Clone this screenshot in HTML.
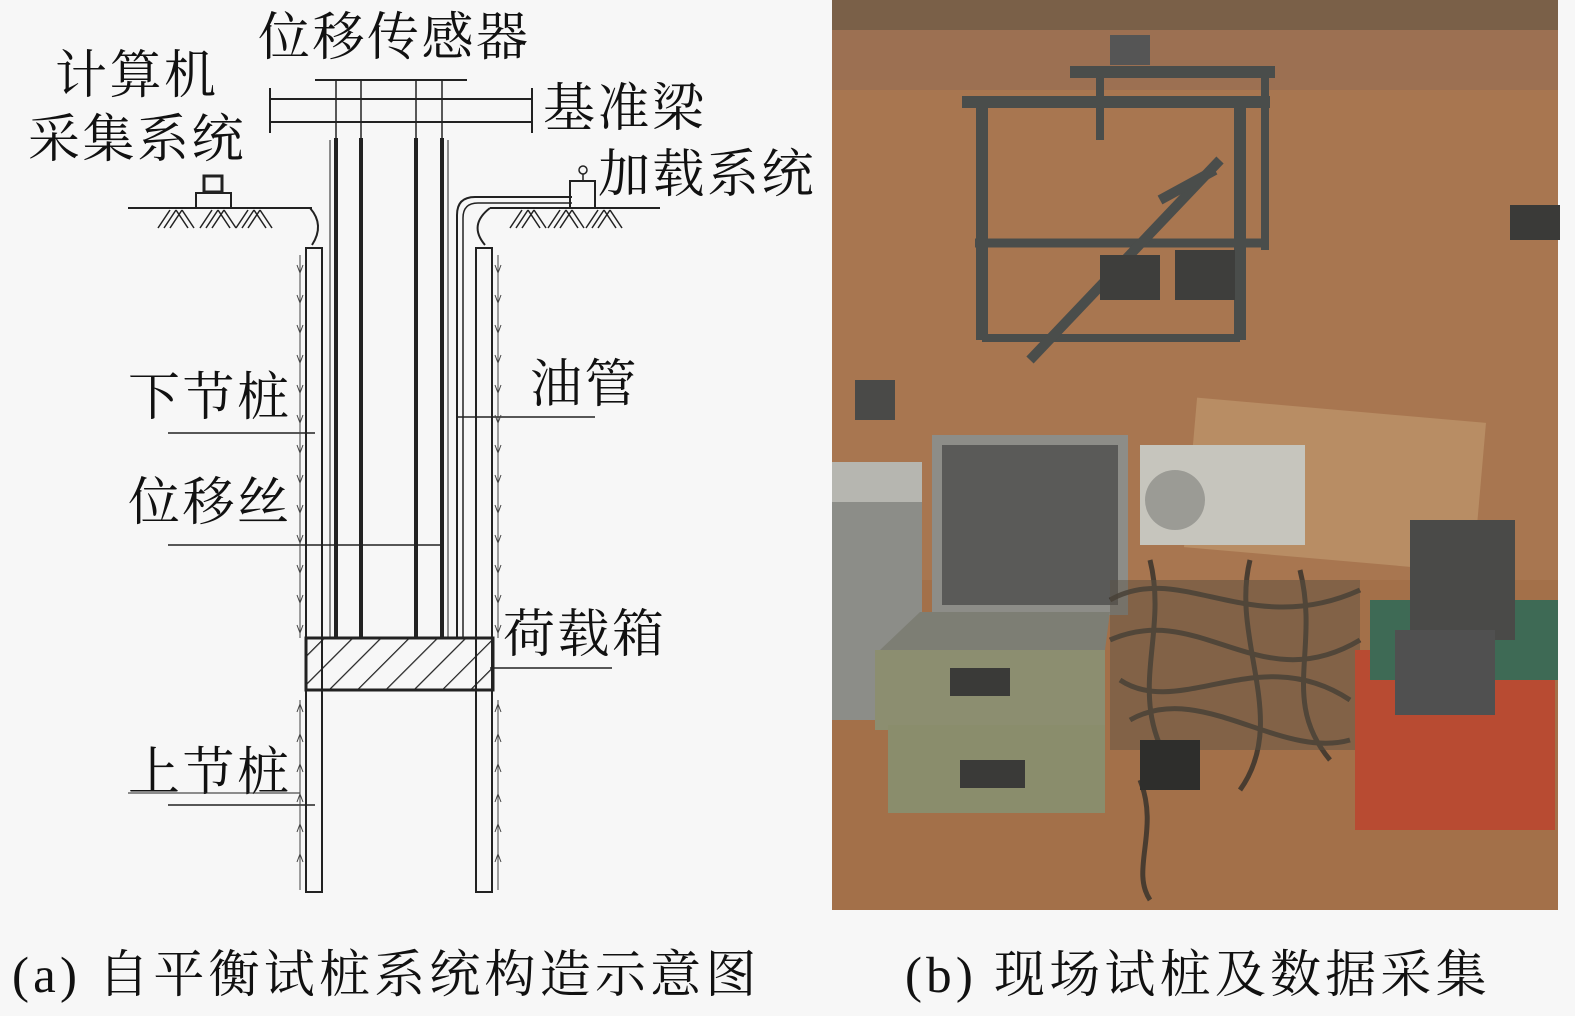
<!DOCTYPE html>
<html><head><meta charset="utf-8"><style>
html,body{margin:0;padding:0;background:#f7f7f7;}
svg{display:block}
text{font-family:"Liberation Serif","Noto Serif CJK SC","Noto Sans CJK SC",serif;fill:#111;}
</style></head><body>
<svg width="1575" height="1016" viewBox="0 0 1575 1016" xmlns="http://www.w3.org/2000/svg">
<defs>
<pattern id="hatch" width="20" height="20" patternUnits="userSpaceOnUse" patternTransform="rotate(45)">
<line x1="0" y1="0" x2="0" y2="20" stroke="#222" stroke-width="2.5"/>
</pattern>
</defs>
<rect width="1575" height="1016" fill="#f7f7f7"/>

<!-- labels -->
<g font-size="52" letter-spacing="2.5">
<text x="258" y="55">位移传感器</text>
<text x="55" y="93">计算机</text>
<text x="28" y="157">采集系统</text>
<text x="543" y="126">基准梁</text>
<text x="598" y="192">加载系统</text>
<text x="530" y="402">油管</text>
<text x="128" y="415">下节桩</text>
<text x="128" y="520">位移丝</text>
<text x="503" y="652">荷载箱</text>
<text x="128" y="790">上节桩</text>
</g>
<text x="12" y="992" font-size="51" letter-spacing="4.2">(a) 自平衡试桩系统构造示意图</text>
<text x="905" y="992" font-size="51" letter-spacing="4.2">(b) 现场试桩及数据采集</text>

<g stroke="#222" fill="none">
<line x1="315" y1="80" x2="467" y2="80" stroke-width="2"/>
<line x1="270" y1="99" x2="532" y2="99" stroke-width="2"/>
<line x1="270" y1="122" x2="532" y2="122" stroke-width="2"/>
<line x1="270" y1="88" x2="270" y2="133" stroke-width="2"/>
<line x1="532" y1="88" x2="532" y2="133" stroke-width="2"/>
<line x1="336" y1="80" x2="336" y2="140" stroke-width="1.5"/>
<line x1="361" y1="80" x2="361" y2="140" stroke-width="1.5"/>
<line x1="416" y1="80" x2="416" y2="140" stroke-width="1.5"/>
<line x1="442" y1="80" x2="442" y2="140" stroke-width="1.5"/>
<line x1="336" y1="138" x2="336" y2="638" stroke-width="4"/>
<line x1="361" y1="138" x2="361" y2="638" stroke-width="4"/>
<line x1="416" y1="138" x2="416" y2="638" stroke-width="4"/>
<line x1="442" y1="138" x2="442" y2="638" stroke-width="4"/>
<line x1="330" y1="140" x2="330" y2="638" stroke-width="1"/>
<line x1="448" y1="140" x2="448" y2="638" stroke-width="1"/>
<path d="M457,638 L457,215 Q457,197 475,197 L572,197" stroke-width="2"/>
<path d="M463,638 L463,218 Q463,203 478,203 L572,203" stroke-width="1.5"/>
<rect x="306" y="248" width="16" height="644" stroke-width="2" fill="#f7f7f7"/>
<rect x="476" y="248" width="16" height="644" stroke-width="2" fill="#f7f7f7"/>
<rect x="306" y="638" width="187" height="52" fill="url(#hatch)" stroke-width="3"/>
<line x1="128" y1="208" x2="312" y2="208" stroke-width="2"/>
<path d="M310,208 Q325,225 312,245" stroke-width="2"/>
<line x1="490" y1="208" x2="660" y2="208" stroke-width="2"/>
<path d="M490,208 Q468,225 485,245" stroke-width="2"/>
<rect x="196" y="193" width="35" height="15" stroke-width="2"/>
<rect x="204" y="176" width="18" height="16" stroke-width="3"/>
<rect x="570" y="181" width="25" height="27" stroke-width="2"/>
<circle cx="583" cy="170" r="4" stroke-width="1.5"/>
<line x1="583" y1="174" x2="583" y2="181" stroke-width="1.5"/>
<g stroke-width="1.5">
<path d="M158,228 l12,-18 M164,228 l12,-18 M170,228 l12,-18 M176,210 l12,18 M182,210 l12,18"/>
<path d="M200,228 l12,-18 M206,228 l12,-18 M212,228 l12,-18 M218,210 l12,18 M224,210 l12,18"/>
<path d="M236,228 l12,-18 M242,228 l12,-18 M248,228 l12,-18 M254,210 l12,18 M260,210 l12,18"/>
<path d="M510,228 l12,-18 M516,228 l12,-18 M522,228 l12,-18 M528,210 l12,18 M534,210 l12,18"/>
<path d="M548,228 l12,-18 M554,228 l12,-18 M560,228 l12,-18 M566,210 l12,18 M572,210 l12,18"/>
<path d="M586,228 l12,-18 M592,228 l12,-18 M598,228 l12,-18 M604,210 l12,18 M610,210 l12,18"/>
</g>
<line x1="168" y1="433" x2="315" y2="433" stroke-width="1.5"/>
<line x1="168" y1="545" x2="442" y2="545" stroke-width="1.5"/>
<line x1="458" y1="417" x2="595" y2="417" stroke-width="1.5"/>
<line x1="490" y1="668" x2="612" y2="668" stroke-width="1.5"/>
<line x1="168" y1="805" x2="315" y2="805" stroke-width="1.5"/>
<line x1="128" y1="793" x2="300" y2="793" stroke-width="1"/>
<g stroke-width="1" stroke="#444">
<line x1="300" y1="255" x2="300" y2="638"/>
<line x1="498" y1="255" x2="498" y2="638"/>
<line x1="300" y1="700" x2="300" y2="890"/>
<line x1="498" y1="700" x2="498" y2="890"/>
<path d="M297,265 l3,8 l3,-8 M297,295 l3,8 l3,-8 M297,325 l3,8 l3,-8 M297,355 l3,8 l3,-8 M297,385 l3,8 l3,-8 M297,415 l3,8 l3,-8 M297,445 l3,8 l3,-8 M297,475 l3,8 l3,-8 M297,505 l3,8 l3,-8 M297,535 l3,8 l3,-8 M297,565 l3,8 l3,-8 M297,595 l3,8 l3,-8 M297,625 l3,8 l3,-8"/>
<path d="M495,265 l3,8 l3,-8 M495,295 l3,8 l3,-8 M495,325 l3,8 l3,-8 M495,355 l3,8 l3,-8 M495,385 l3,8 l3,-8 M495,415 l3,8 l3,-8 M495,445 l3,8 l3,-8 M495,475 l3,8 l3,-8 M495,505 l3,8 l3,-8 M495,535 l3,8 l3,-8 M495,565 l3,8 l3,-8 M495,595 l3,8 l3,-8 M495,625 l3,8 l3,-8"/>
<path d="M297,712 l3,-8 l3,8 M297,742 l3,-8 l3,8 M297,772 l3,-8 l3,8 M297,802 l3,-8 l3,8 M297,832 l3,-8 l3,8 M297,862 l3,-8 l3,8"/>
<path d="M495,712 l3,-8 l3,8 M495,742 l3,-8 l3,8 M495,772 l3,-8 l3,8 M495,802 l3,-8 l3,8 M495,832 l3,-8 l3,8 M495,862 l3,-8 l3,8"/>
</g>
</g>

<!-- photo -->
<g>
<rect x="832" y="0" width="726" height="910" fill="#a87650"/>
<rect x="832" y="0" width="726" height="30" fill="#7a6048"/>
<rect x="832" y="30" width="726" height="60" fill="#9c7052"/>
<rect x="832" y="580" width="726" height="330" fill="#a37049"/>
<rect x="1190" y="410" width="290" height="150" fill="#b88d64" transform="rotate(5 1335 485)"/>
<g stroke="#4a4d4b" stroke-width="12" fill="none">
<line x1="962" y1="102" x2="1270" y2="102"/>
<line x1="1070" y1="72" x2="1275" y2="72"/>
<line x1="982" y1="100" x2="982" y2="340"/>
<line x1="1240" y1="100" x2="1240" y2="340"/>
<line x1="1100" y1="72" x2="1100" y2="140" stroke-width="8"/>
<line x1="1265" y1="72" x2="1265" y2="250" stroke-width="8"/>
<line x1="975" y1="243" x2="1265" y2="243" stroke-width="9"/>
<line x1="982" y1="338" x2="1240" y2="338" stroke-width="8"/>
<line x1="1030" y1="360" x2="1220" y2="160" stroke-width="10"/>
<line x1="1160" y1="200" x2="1215" y2="170" stroke-width="10"/>
</g>
<rect x="1110" y="35" width="40" height="30" fill="#555"/>
<rect x="1100" y="255" width="60" height="45" fill="#3e3e3c"/>
<rect x="1175" y="250" width="60" height="50" fill="#3e3e3c"/>
<rect x="855" y="380" width="40" height="40" fill="#4a4a48"/>
<rect x="1510" y="205" width="50" height="35" fill="#3a3a38"/>
<rect x="832" y="462" width="90" height="258" fill="#8c8d88"/>
<rect x="832" y="462" width="90" height="40" fill="#b6b6b0"/>
<rect x="932" y="435" width="196" height="180" fill="#8d8d88"/>
<rect x="942" y="445" width="176" height="160" fill="#5a5a58"/>
<polygon points="880,650 920,612 1110,612 1105,650" fill="#7d7e74"/>
<rect x="875" y="650" width="230" height="80" fill="#8c8e70"/>
<rect x="950" y="668" width="60" height="28" fill="#3a3a38"/>
<rect x="888" y="725" width="217" height="88" fill="#8a8d6c"/>
<rect x="960" y="760" width="65" height="28" fill="#3a3a38"/>
<rect x="1140" y="445" width="165" height="100" fill="#c6c5bd"/>
<circle cx="1175" cy="500" r="30" fill="#9b9b95"/>
<g stroke="#3a342c" stroke-width="5" fill="none" opacity="0.85">
<path d="M1110,600 C1180,560 1250,640 1360,590"/>
<path d="M1110,640 C1200,600 1260,700 1360,640"/>
<path d="M1120,680 C1180,720 1260,640 1350,700"/>
<path d="M1130,720 C1200,680 1280,760 1350,740"/>
<path d="M1150,560 C1170,640 1120,700 1180,780"/>
<path d="M1250,560 C1230,640 1290,720 1240,790"/>
<path d="M1300,570 C1320,650 1280,700 1330,760"/>
<path d="M1140,780 C1160,830 1130,870 1150,900"/>
</g>
<rect x="1110" y="580" width="250" height="170" fill="#5a5244" opacity="0.45"/>
<rect x="1140" y="740" width="60" height="50" fill="#2e2e2c"/>
<rect x="1355" y="650" width="200" height="180" fill="#b84b32"/>
<rect x="1370" y="600" width="188" height="80" fill="#3e6a55"/>
<rect x="1410" y="520" width="105" height="120" fill="#4a4a48"/>
<rect x="1395" y="630" width="100" height="85" fill="#505050"/>
</g>
</svg>
</body></html>
